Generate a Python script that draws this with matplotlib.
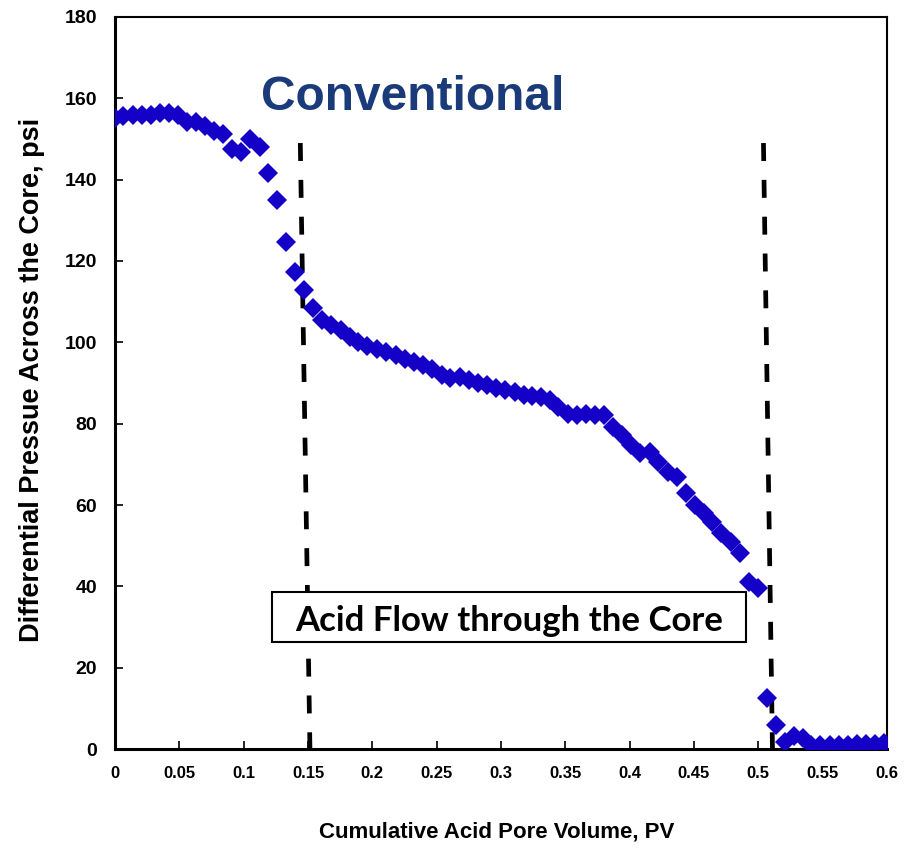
import matplotlib
matplotlib.use("Agg")
from matplotlib import pyplot as plt
from matplotlib.patches import Rectangle

# Cumulative acid pore volume (PV) and differential pressure (psi)
pv = [0.000, 0.006, 0.014, 0.021, 0.028, 0.035, 0.042, 0.049, 0.056, 0.063,
      0.070, 0.077, 0.084, 0.091, 0.098, 0.105, 0.113, 0.119, 0.126, 0.133,
      0.140, 0.147, 0.154, 0.161, 0.168, 0.176, 0.183, 0.189, 0.196, 0.204,
      0.211, 0.218, 0.225, 0.232, 0.239, 0.246, 0.254, 0.260, 0.268, 0.275,
      0.282, 0.289, 0.296, 0.303, 0.311, 0.318, 0.324, 0.331, 0.338, 0.344,
      0.352, 0.359, 0.366, 0.373, 0.380, 0.387, 0.394, 0.401, 0.408, 0.416,
      0.422, 0.430, 0.437, 0.444, 0.451, 0.458, 0.464, 0.471, 0.479, 0.486,
      0.493, 0.500, 0.507, 0.514, 0.521, 0.528, 0.535, 0.541, 0.548, 0.556,
      0.563, 0.570, 0.577, 0.584, 0.591, 0.598]
dp = [155.1, 155.6, 155.8, 156.0, 156.0, 156.3, 156.3, 155.9, 154.2, 154.1,
      153.2, 152.0, 151.1, 147.5, 146.7, 149.9, 148.1, 141.6, 135.0, 124.7,
      117.4, 112.9, 108.4, 105.6, 104.3, 103.0, 101.2, 100.2, 99.1, 98.3,
      97.7, 96.9, 95.8, 95.2, 94.4, 93.4, 92.0, 91.3, 91.5, 90.7,
      89.9, 89.5, 88.7, 88.3, 87.9, 87.0, 86.8, 86.6, 85.8, 84.2,
      82.5, 82.1, 82.5, 82.1, 82.1, 79.2, 77.2, 74.7, 72.7, 73.1,
      70.6, 68.2, 67.0, 62.9, 60.0, 58.0, 55.9, 53.0, 51.0, 48.3,
      41.1, 39.5, 12.5, 5.9, 1.8, 3.3, 2.6, 1.0, 1.0, 1.0,
      1.0, 1.0, 1.2, 1.2, 1.3, 1.4]

# dashed markers for start / end of acid flow (top and bottom points)
line1_x = [0.144, 0.1515]
line1_y = [149, 0]
line2_x = [0.504, 0.511]
line2_y = [149, 0]

x_ticks = [0, 0.05, 0.1, 0.15, 0.2, 0.25, 0.3, 0.35, 0.4, 0.45, 0.5, 0.55, 0.6]
x_tick_labels = ['0', '0.05', '0.1', '0.15', '0.2', '0.25', '0.3', '0.35',
                 '0.4', '0.45', '0.5', '0.55', '0.6']
y_ticks = [0, 20, 40, 60, 80, 100, 120, 140, 160, 180]

fig = plt.figure(figsize=(9.1, 8.48), dpi=100)
ax = fig.add_axes([0.1264, 0.1167, 0.8483, 0.8633])

ax.plot(line1_x, line1_y, color='black', lw=3.4, dashes=(3.8, 4.0), zorder=2)
ax.plot(line2_x, line2_y, color='black', lw=3.4, dashes=(3.8, 4.0), zorder=2)

ax.plot(pv, dp, linestyle='none', marker='D', markersize=10,
        color='#1500c8', markeredgewidth=0, zorder=4)

ax.set_xlim(0, 0.6)
ax.set_ylim(0, 180)
ax.set_xticks(x_ticks)
ax.set_xticklabels(x_tick_labels, fontsize=12, family='Liberation Sans',
                   fontweight='bold')
ax.set_yticks(y_ticks)
ax.set_yticklabels([str(v) for v in y_ticks], fontsize=14,
                   family='Liberation Sans', fontweight='bold')
ax.tick_params(direction='in', length=6, width=1.2)
ax.tick_params(axis='y', pad=13)
ax.tick_params(axis='x', pad=12)

for side in ['left', 'bottom']:
    ax.spines[side].set_linewidth(2.2)
for side in ['top', 'right']:
    ax.spines[side].set_linewidth(1.5)

ax.set_xlabel('Cumulative Acid Pore Volume, PV', fontsize=16,
              family='Liberation Sans', fontweight='bold')
ax.xaxis.set_label_coords(0.495, -0.113)
ax.xaxis.label.set_va('center')
ax.set_ylabel('Differential Pressue Across the Core, psi', fontsize=19.5,
              family='Liberation Sans', fontweight='bold')
ax.yaxis.set_label_coords(-0.1075, 0.504)
ax.yaxis.label.set_va('center')

ax.text(0.2315, 160.3, 'Conventional', fontsize=34.5, family='Liberation Sans',
        fontweight='bold', color='#1a3a7a', ha='center', va='center')

# white box with border, sits on top of the first dashed line
box = Rectangle((0.1218, 26.4), 0.3688, 12.1, facecolor='white',
                edgecolor='black', lw=1.5, zorder=3)
ax.add_patch(box)
ax.text(0.3063, 31.6, 'Acid Flow through the Core', fontsize=25,
        family='Lato', fontweight='bold', color='black',
        ha='center', va='center', zorder=5)

fig.savefig('out.png', dpi=100)
